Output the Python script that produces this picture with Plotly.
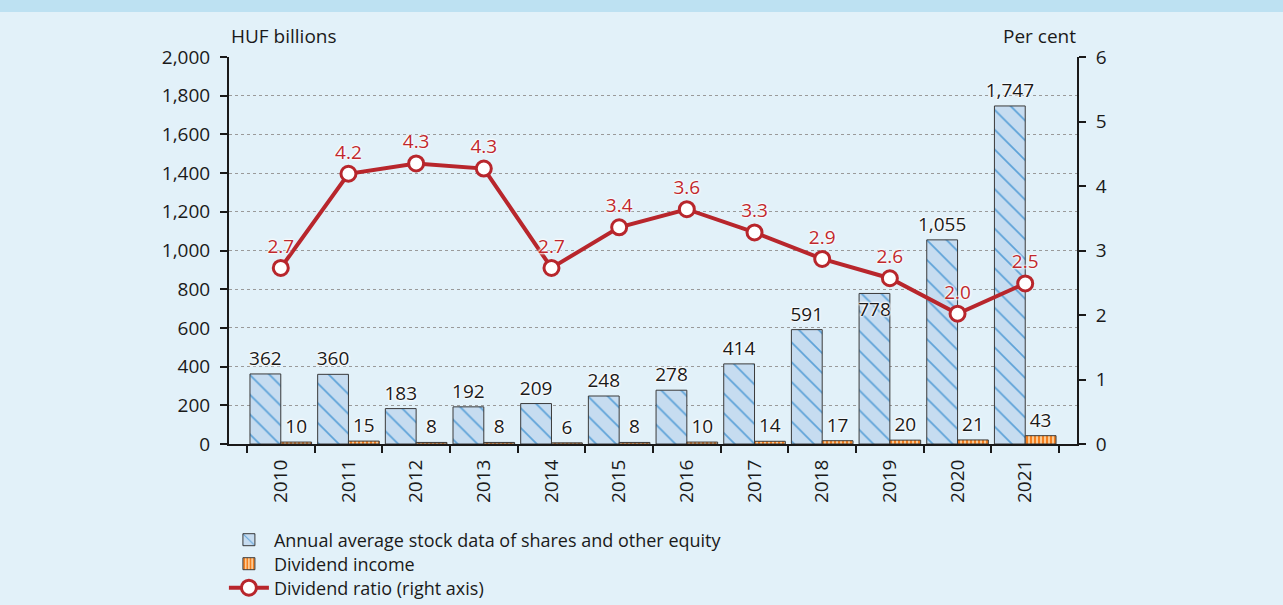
import plotly.graph_objects as go

years = ["2010", "2011", "2012", "2013", "2014", "2015", "2016", "2017", "2018", "2019", "2020", "2021"]
stock = [362, 360, 183, 192, 209, 248, 278, 414, 591, 778, 1055, 1747]
dividend = [10, 15, 8, 8, 6, 8, 10, 14, 17, 20, 21, 43]
ratio = [2.73, 4.19, 4.35, 4.27, 2.73, 3.36, 3.64, 3.28, 2.87, 2.57, 2.02, 2.49]
ratio_labels = ["2.7", "4.2", "4.3", "4.3", "2.7", "3.4", "3.6", "3.3", "2.9", "2.6", "2.0", "2.5"]

FONT = "Open Sans"
BG = "#E2F1F9"
HALO_W = "0 0 2px white, 0 0 2px white, 0 0 3px white, 0 0 3px white"

stock_text = [f"{v:,}" for v in stock]
stock_pos = ["inside" if y == "2019" else "outside" for y in years]

fig = go.Figure()
fig.add_trace(go.Bar(
    x=years, y=stock, name="Annual average stock data of shares and other equity",
    legend="legend",
    marker=dict(color="#C6DCF0", line=dict(color="#3A3A3A", width=1),
                pattern=dict(shape="\\", bgcolor="#C6DCF0", fgcolor="#5DA2D8",
                             size=14, solidity=0.12, fillmode="replace")),
    text=stock_text, textposition=stock_pos, insidetextanchor="end", textangle=0,
    textfont=dict(family=FONT, size=19, color="#1a1a1a", shadow=HALO_W),
    outsidetextfont=dict(family=FONT, size=19, color="#1a1a1a", shadow=HALO_W),
    insidetextfont=dict(family=FONT, size=19, color="#1a1a1a", shadow=HALO_W),
    constraintext="none", cliponaxis=False,
))
fig.add_trace(go.Bar(
    x=years, y=dividend, name="Dividend income", legend="legend2",
    marker=dict(color="#F7941D", line=dict(color="#3A3A3A", width=1),
                pattern=dict(shape="|", bgcolor="#FCD2A0", fgcolor="#F47F1F",
                             size=4, solidity=0.55, fillmode="replace")),
    text=[str(v) for v in dividend], textposition="outside", textangle=0,
    textfont=dict(family=FONT, size=19, color="#1a1a1a", shadow=HALO_W),
    constraintext="none", cliponaxis=False,
))
fig.add_trace(go.Scatter(
    x=years, y=ratio, yaxis="y2", name="Dividend ratio (right axis)", legend="legend3",
    mode="lines+markers+text",
    line=dict(color="#B8262C", width=4),
    marker=dict(size=15, color="white", line=dict(color="#B8262C", width=3)),
    text=ratio_labels, textposition="top center",
    textfont=dict(family=FONT, size=19, color="#C0282D", shadow=HALO_W),
    cliponaxis=False,
))

def leg(yc):
    return dict(x=-0.006, y=(444 - yc) / 387, xanchor="left", yanchor="middle",
                orientation="v", bgcolor="rgba(0,0,0,0)",
                font=dict(family=FONT, size=18, color="#1a1a1a"), itemwidth=40)

fig.update_layout(
    width=1283, height=605,
    margin=dict(l=229, r=206, t=57, b=161, autoexpand=False),
    paper_bgcolor=BG, plot_bgcolor=BG,
    font=dict(family=FONT, size=19, color="#1a1a1a"),
    barmode="group", bargap=0.09, bargroupgap=0,
    showlegend=True,
    legend=leg(540), legend2=leg(564), legend3=leg(588),
    xaxis=dict(type="category", tickson="boundaries", ticks="outside", ticklen=7,
               tickwidth=2, tickcolor="#1a1a1a", showline=True, linecolor="#1a1a1a",
               linewidth=2, tickangle=-90, showgrid=False, ticklabelstandoff=6,
               tickfont=dict(family=FONT, size=19, color="#1a1a1a")),
    yaxis=dict(range=[0, 2000], dtick=200, tickformat=",", ticks="outside",
               ticklen=7, tickwidth=2, tickcolor="#1a1a1a", showline=True,
               linecolor="#1a1a1a", linewidth=2, showgrid=True, gridcolor="#9A9A9A",
               griddash="dot", gridwidth=1, zeroline=False, ticklabelstandoff=6,
               tickfont=dict(family=FONT, size=19, color="#1a1a1a")),
    yaxis2=dict(range=[0, 6], dtick=1, overlaying="y", side="right", ticks="outside",
                ticklen=7, tickwidth=2, tickcolor="#1a1a1a", showline=True,
                linecolor="#1a1a1a", linewidth=2, showgrid=False, zeroline=False,
                ticklabelstandoff=6,
                tickfont=dict(family=FONT, size=19, color="#1a1a1a")),
    shapes=[dict(type="rect", xref="paper", yref="paper", x0=-0.3, x1=1.3,
                 y0=(444 - 12) / 387, y1=1.3, fillcolor="#BDE1F2", line=dict(width=0),
                 layer="below")],
    annotations=[
        dict(text="HUF billions", xref="paper", yref="paper", x=0, y=(444 - 36) / 387,
             xanchor="left", yanchor="middle", showarrow=False,
             font=dict(family=FONT, size=19, color="#1a1a1a")),
        dict(text="Per cent", xref="paper", yref="paper", x=1.001, y=(444 - 36) / 387,
             xanchor="right", yanchor="middle", showarrow=False,
             font=dict(family=FONT, size=19, color="#1a1a1a")),
    ],
)

fig.write_html("out.html", config={"displayModeBar": False},
               post_script="document.body.style.margin='0';document.body.style.overflow='hidden';")
